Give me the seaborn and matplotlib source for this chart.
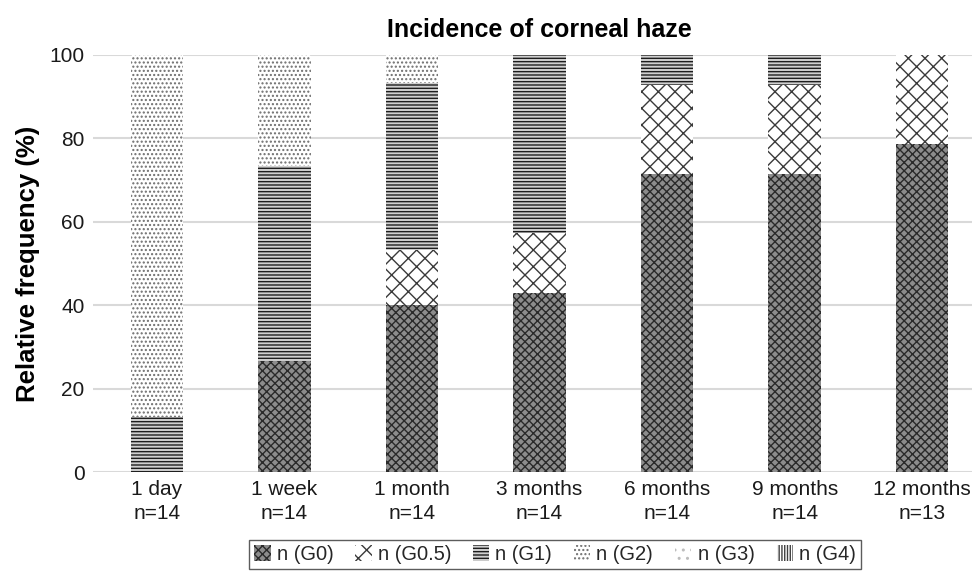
import numpy as np
import pandas as pd
import matplotlib
matplotlib.use("Agg")
import matplotlib.pyplot as plt
import seaborn as sns
from matplotlib.patches import Patch

# data (relative frequency, %)
times = ["1 day", "1 week", "1 month", "3 months", "6 months", "9 months", "12 months"]
n_eyes = [14, 14, 14, 14, 14, 14, 13]
grades = ["G0", "G0.5", "G1", "G2", "G3", "G4"]
g0 = [0, 26.7, 40.0, 42.9, 71.4, 71.4, 78.6]
g05 = [0, 0, 13.3, 14.3, 21.5, 21.5, 21.4]
g1 = [13.3, 46.7, 40.0, 42.8, 7.1, 7.1, 0]
g2 = [86.7, 26.6, 6.7, 0, 0, 0, 0]
g3 = [0, 0, 0, 0, 0, 0, 0]
g4 = [0, 0, 0, 0, 0, 0, 0]

labels = [f"{t}\nn={n}" for t, n in zip(times, n_eyes)]
df = pd.DataFrame({"time": labels, "G0": g0, "G0.5": g05, "G1": g1,
                   "G2": g2, "G3": g3, "G4": g4})

# style per grade: face, hatch colour, hatch
styles = {
    "G0": ("#8c8c8c", "#2a2a2a", "xxxx"),
    "G0.5": ("white", "#3a3a3a", "xx"),
    "G1": ("#d0d0d0", "#1e1e1e", "-----"),
    "G2": ("white", "#6e6e6e", "...."),
    "G3": ("white", "#bdbdbd", ".."),
    "G4": ("white", "#404040", "||||||"),
}

sns.set_theme(style="white")
plt.rcParams["font.family"] = ["Liberation Sans", "DejaVu Sans"]
plt.rcParams["hatch.linewidth"] = 1.0

fig = plt.figure(figsize=(9.72, 5.79), dpi=100)
ax = fig.add_axes([93 / 972, (579 - 472) / 579, (986 - 93) / 972, (472 - 55) / 579])

# layered cumulative bars, largest first so each later layer covers the earlier
for i in range(len(grades) - 1, -1, -1):
    g = grades[i]
    cum = df[grades[: i + 1]].sum(axis=1)
    face, hcol, hatch = styles[g]
    sns.barplot(x=df["time"], y=cum, ax=ax, color=face, width=0.41,
                edgecolor=hcol, linewidth=0, hatch=hatch, saturation=1)

ax.set_ylim(0, 100)
ax.set_yticks([0, 20, 40, 60, 80, 100])
ax.yaxis.grid(True, color="#d9d9d9", linewidth=1.5)
ax.set_axisbelow(True)
for s in ax.spines.values():
    s.set_visible(False)
ax.tick_params(axis="both", length=0, labelsize=15, colors="#1a1a1a")
ax.tick_params(axis="y", pad=6)
ax.tick_params(axis="x", pad=6)
for t in ax.get_xticklabels():
    t.set_linespacing(1.3)
ax.set_xlabel("")
ax.set_ylabel("Relative frequency (%)", fontsize=18.5, fontweight="bold", labelpad=7, color="black")
ax.set_title("Incidence of corneal haze", fontsize=18, fontweight="bold", pad=13, color="black")

handles = [Patch(facecolor=styles[g][0], edgecolor=styles[g][1], hatch=styles[g][2],
                 linewidth=0, label=f"n ({g})") for g in grades]
leg = fig.legend(handles=handles, loc="lower center", ncol=6, bbox_to_anchor=(555 / 972, 0.0),
                 fontsize=14.5, frameon=True, fancybox=False, handlelength=0.8, handleheight=0.8,
                 handletextpad=0.3, columnspacing=1.1, borderpad=0.25)
leg.get_frame().set_edgecolor("#333333")
leg.get_frame().set_linewidth(1.0)

fig.savefig("out.png", dpi=100)
